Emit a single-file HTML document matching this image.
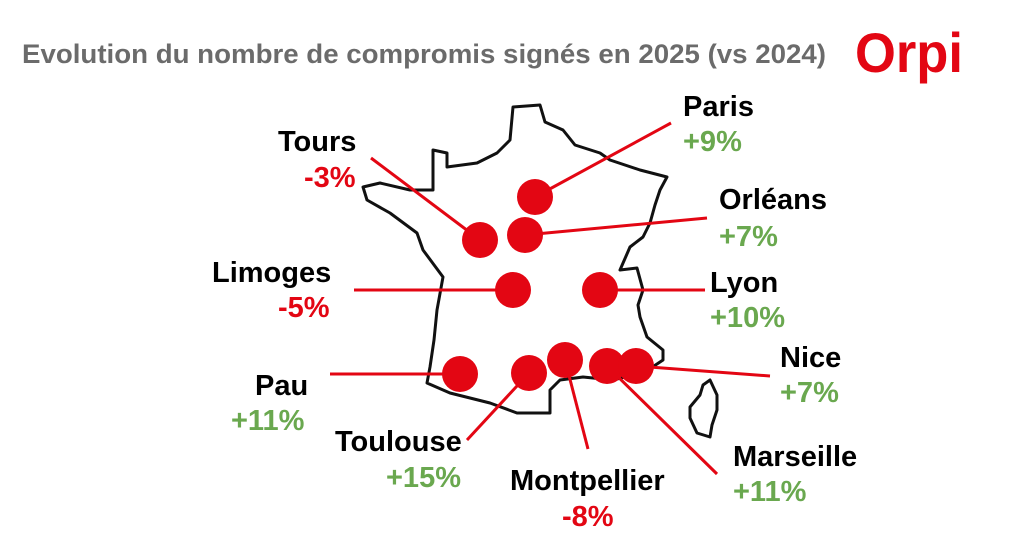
<!DOCTYPE html><html><head><style>
body{margin:0;width:1024px;height:537px;background:#fff;overflow:hidden;font-family:"Liberation Sans",Arial,sans-serif}
</style></head><body>
<svg width="1024" height="537" viewBox="0 0 1024 537" xmlns="http://www.w3.org/2000/svg" font-family="Liberation Sans, Arial, sans-serif" font-weight="bold">
<text x="22" y="63" font-size="26.5" fill="#6b6b6b" textLength="804" lengthAdjust="spacingAndGlyphs">Evolution du nombre de compromis signés en 2025 (vs 2024)</text>
<text x="855" y="72" font-size="56" fill="#e30613" textLength="108" lengthAdjust="spacingAndGlyphs">Orpi</text>
<path d="M513,107 L540,105 L545,122 L563,130 L575,145 L600,153 L610,160 L640,170 L667,177 L660,190 L655,205 L650,223 L643,237 L630,247 L620,270 L637,268 L643,290 L638,305 L640,317 L647,337 L663,350 L663,360 L645,372 L613,380 L583,377 L560,380 L550,390 L550,413 L517,413 L490,403 L450,393 L427,383 L430,367 L434,340 L437,310 L443,277 L423,250 L417,233 L390,213 L367,200 L363,187 L380,183 L410,190 L433,190 L433,150 L447,153 L447,167 L477,163 L497,153 L510,140 Z" fill="none" stroke="#111" stroke-width="3" stroke-linejoin="round"/>
<path d="M710,380 L717,395 L717,410 L712,425 L710,437 L697,433 L690,418 L690,407 L700,395 L703,385 Z" fill="none" stroke="#111" stroke-width="3" stroke-linejoin="round"/>
<g stroke="#e30613" stroke-width="3">
<line x1="535" y1="197" x2="671" y2="123"/>
<line x1="371" y1="158" x2="480" y2="240"/>
<line x1="525" y1="235" x2="707" y2="218"/>
<line x1="354" y1="290" x2="513" y2="290"/>
<line x1="600" y1="290" x2="705" y2="290"/>
<line x1="330" y1="374" x2="460" y2="374"/>
<line x1="529" y1="373" x2="467" y2="440"/>
<line x1="565" y1="360" x2="588" y2="449"/>
<line x1="607" y1="366" x2="717" y2="474"/>
<line x1="636" y1="366" x2="770" y2="376"/>
</g>
<g fill="#e30613">
<circle cx="535" cy="197" r="18"/><circle cx="480" cy="240" r="18"/><circle cx="525" cy="235" r="18"/>
<circle cx="513" cy="290" r="18"/><circle cx="600" cy="290" r="18"/><circle cx="460" cy="374" r="18"/>
<circle cx="529" cy="373" r="18"/><circle cx="565" cy="360" r="18"/><circle cx="607" cy="366" r="18"/><circle cx="636" cy="366" r="18"/>
</g>
<g font-size="29">
<text x="683" y="116" fill="#000">Paris</text><text x="683" y="151" fill="#6aa84f">+9%</text>
<text x="278" y="151" fill="#000">Tours</text><text x="304" y="187" fill="#e30613">-3%</text>
<text x="719" y="209" fill="#000">Orléans</text><text x="719" y="246" fill="#6aa84f">+7%</text>
<text x="212" y="282" fill="#000">Limoges</text><text x="278" y="317" fill="#e30613">-5%</text>
<text x="710" y="292" fill="#000">Lyon</text><text x="710" y="327" fill="#6aa84f">+10%</text>
<text x="255" y="395" fill="#000">Pau</text><text x="231" y="430" fill="#6aa84f">+11%</text>
<text x="780" y="367" fill="#000">Nice</text><text x="780" y="402" fill="#6aa84f">+7%</text>
<text x="335" y="451" fill="#000">Toulouse</text><text x="386" y="487" fill="#6aa84f">+15%</text>
<text x="733" y="466" fill="#000">Marseille</text><text x="733" y="501" fill="#6aa84f">+11%</text>
<text x="510" y="490" fill="#000">Montpellier</text><text x="562" y="526" fill="#e30613">-8%</text>
</g>
</svg>
</body></html>
